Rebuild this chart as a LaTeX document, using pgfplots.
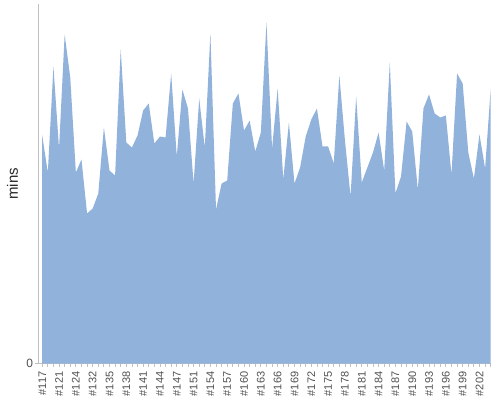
\documentclass[border=0pt]{standalone}
\usepackage{fontspec}
\setmainfont{Liberation Sans}
\usepackage{pgfplots}
\pgfplotsset{compat=1.18}
\definecolor{areac}{RGB}{145,178,219}
\definecolor{axc}{RGB}{192,192,192}
\definecolor{lblc}{RGB}{80,80,80}
\begin{document}
\begin{tikzpicture}[x=1bp,y=1bp]
\useasboundingbox (0,0) rectangle (500,400);
\begin{axis}[
  at={(38.3bp,36.5bp)}, anchor=south west,
  scale only axis,
  width=452.4bp, height=359.5bp,
  xmin=-0.7, xmax=80, ymin=0, ymax=359.5,
  axis x line=bottom, axis y line=left,
  axis line style={draw=axc, line width=0.8bp, -},
  every tick/.style={draw=axc, line width=0.8bp},
  tick align=outside,
  major tick length=3bp, minor tick length=3bp,
  xtick={0,3,...,78},
  minor xtick={0,...,80},
  xticklabels={\#117,\#121,\#124,\#132,\#135,\#138,\#141,\#144,\#147,\#151,\#154,\#157,\#160,\#163,\#166,\#169,\#172,\#175,\#178,\#181,\#184,\#187,\#190,\#193,\#196,\#199,\#202},
  ytick={0}, yticklabels={0},
  /pgf/number format/assume math mode=true,
  xticklabel style={font=\fontsize{11bp}{13bp}\selectfont, text=lblc, rotate=90, anchor=east, inner sep=0pt, xshift=-5bp},
  yticklabel style={font=\fontsize{12bp}{14bp}\selectfont, text=lblc, inner sep=0pt, xshift=-2bp},
  ylabel={mins},
  ylabel style={at={(axis description cs:-0.057,0.5)}, anchor=center, font=\fontsize{15bp}{17bp}\selectfont, text={rgb,255:red,40;green,40;blue,40}},
  clip=false,
]
\addplot[fill=areac, draw=none] coordinates {
(0,228) (1,191) (2,297) (3,215) (4,329) (5,286) (6,191) (7,204) (8,150) (9,155)
(10,170) (11,236) (12,193) (13,188) (14,314) (15,221) (16,216) (17,228) (18,253) (19,260)
(20,220) (21,227) (22,226) (23,290) (24,207) (25,274) (26,255) (27,180) (28,265) (29,216)
(30,330) (31,154) (32,180) (33,183) (34,260) (35,270) (36,233) (37,243) (38,212) (39,231)
(40,341) (41,215) (42,275) (43,184) (44,241) (45,180) (46,196) (47,227) (48,244) (49,255)
(50,217) (51,217) (52,200) (53,288) (54,223) (55,167) (56,267) (57,181) (58,196) (59,211)
(60,231) (61,193) (62,301) (63,170) (64,187) (65,242) (66,232) (67,174) (68,255) (69,269)
(70,250) (71,246) (72,248) (73,189) (74,290) (75,280) (76,211) (77,185) (78,229) (79,195)
(80,275)
} \closedcycle;
\end{axis}
\end{tikzpicture}
\end{document}
